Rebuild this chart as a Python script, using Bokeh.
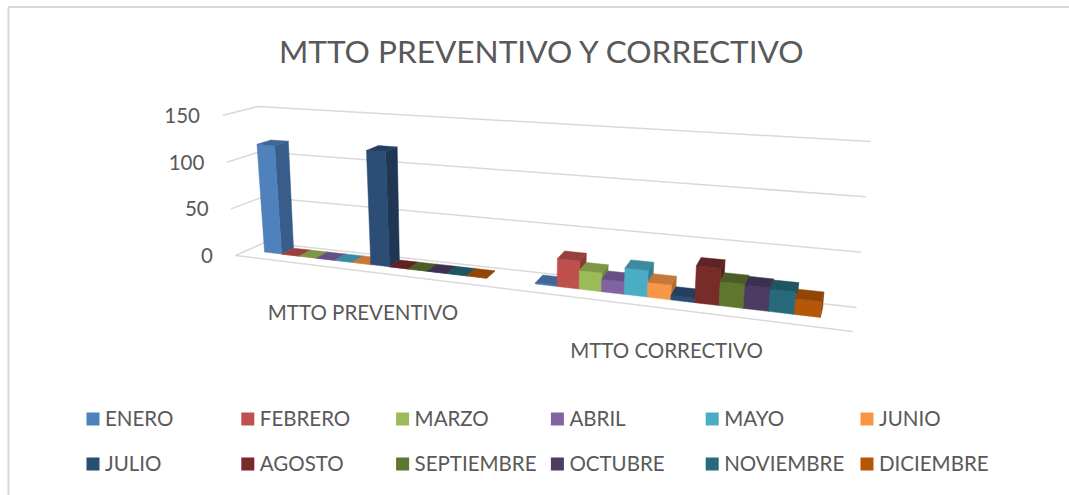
from bokeh.plotting import figure
from bokeh.embed import file_html
from bokeh.resources import INLINE
from bokeh.models import Range1d
from bokeh.core.properties import value

TITLE = "MTTO PREVENTIVO Y CORRECTIVO"
CATEGORIES = ["MTTO PREVENTIVO", "MTTO CORRECTIVO"]
MONTHS = ["ENERO", "FEBRERO", "MARZO", "ABRIL", "MAYO", "JUNIO", "JULIO", "AGOSTO",
          "SEPTIEMBRE", "OCTUBRE", "NOVIEMBRE", "DICIEMBRE"]
PREVENTIVO = [116, 0, 0, 0, 0, 0, 118, 0, 0, 0, 0, 0]
CORRECTIVO = [1, 27, 18, 12, 25, 14, 4, 34, 22, 21, 20, 14]
TICKS = [0, 50, 100, 150]
FRONT = ["#4F81BD", "#C0504D", "#9BBB59", "#8064A2", "#4BACC6", "#F79646",
         "#2C4D75", "#772C2A", "#5F7530", "#4D3B62", "#276A7C", "#B65708"]
SIDE = ["#385D8A", "#8C3A38", "#71893F", "#5C4776", "#357D91", "#B66D31",
        "#1F3752", "#561F1E", "#445422", "#362945", "#1B4B58", "#843F06"]
TOP = ["#3F6797", "#9A3F3D", "#7D9747", "#664F85", "#3C8AA0", "#C77738",
       "#233E5E", "#5F2322", "#4C5E26", "#3D2F4E", "#1F5563", "#924605"]

C = {
    (0, 0, 0): (235, 255), (1, 0, 0): (852, 331),
    (0, 1, 0): (264, 242), (1, 1, 0): (856, 307),
    (0, 0, 1): (222, 115), (1, 0, 1): (866, 156),
    (0, 1, 1): (257, 106), (1, 1, 1): (870, 141),
}
VMAX = 150
PERSP = 1.25
GROUP_START = [0.0345, 0.5301]
BAR_W = [0.0345, 0.0354]
V0, V1 = 0.42, 0.85


def warp(t):
    return t / (t + (1 - t) * PERSP)


def proj(t, v, val):
    u, w = warp(t), val / VMAX
    x = y = 0.0
    for (a, b, c), (px, py) in C.items():
        k = (u if a else 1 - u) * (v if b else 1 - v) * (w if c else 1 - w)
        x += k * px
        y += k * py
    return x, y


W, H = 1069, 495
p = figure(width=W, height=H, output_backend="svg", toolbar_location=None,
           x_range=Range1d(0, W), y_range=Range1d(H, 0), min_border=0)
p.axis.visible = False
p.grid.visible = False
p.outline_line_color = None
p.background_fill_color = "white"

FRAME_X, FRAME_Y = 8, 6.5
p.line([FRAME_X, FRAME_X], [H, FRAME_Y], line_color="#D9D9D9", line_width=2)
p.line([FRAME_X, W], [FRAME_Y, FRAME_Y], line_color="#D9D9D9", line_width=2)

FONT = value("Lato")
INK = "#595959"
GRID = "#D9D9D9"

for tv in TICKS:
    xs, ys = zip(*[proj(0, 0, tv), proj(0, 1, tv), proj(1, 1, tv)])
    p.line(list(xs), list(ys), line_color=GRID, line_width=1.5)
xs, ys = zip(*[proj(0, 0, 0), proj(1, 0, 0)])
p.line(list(xs), list(ys), line_color=GRID, line_width=1.5)

for c, series in enumerate([PREVENTIVO, CORRECTIVO]):
    for s, val in enumerate(series):
        t0 = GROUP_START[c] + s * BAR_W[c]
        t1 = t0 + BAR_W[c]
        fl0, fl1 = proj(t0, V0, 0), proj(t1, V0, 0)
        bl1 = proj(t1, V1, 0)
        ft0, ft1 = proj(t0, V0, val), proj(t1, V0, val)
        bt0, bt1 = proj(t0, V1, val), proj(t1, V1, val)
        faces = [([fl1, bl1, bt1, ft1], SIDE[s]),
                 ([fl0, fl1, ft1, ft0], FRONT[s]),
                 ([ft0, ft1, bt1, bt0], TOP[s])]
        for pts, col in faces:
            xs, ys = zip(*pts)
            p.patch(list(xs), list(ys), fill_color=col, line_color=col, line_width=0.5)

for tv in TICKS:
    x, y = proj(0, 0, tv)
    p.text([x - 22.5], [y], text=[str(tv)], text_font=FONT, text_font_size="20.5px",
           text_color=INK, text_align="right", text_baseline="middle")

CAT_X = [362.5, 666]
CAT_Y = [311.5, 349.5]
for x, y, t in zip(CAT_X, CAT_Y, CATEGORIES):
    p.text([x], [y], text=[t], text_font=FONT, text_font_size="20.5px", text_color=INK,
           text_align="center", text_baseline="middle")

p.text([542], [50], text=[TITLE], text_font=FONT, text_font_size="31.6px", text_color=INK,
       text_align="center", text_baseline="middle")

LEG_X0, LEG_DX, LEG_Y0, LEG_DY, BOX = 86, 154.8, 418.5, 45, 13
for i, (m, col) in enumerate(zip(MONTHS, FRONT)):
    x = LEG_X0 + (i % 6) * LEG_DX
    y = LEG_Y0 + (i // 6) * LEG_DY
    p.quad(left=[x], right=[x + BOX], top=[y - BOX / 2], bottom=[y + BOX / 2],
           fill_color=col, line_color=None)
    p.text([x + 18.5], [y - 1.5], text=[m], text_font=FONT, text_font_size="20.5px", text_color=INK,
           text_align="left", text_baseline="middle")

open("out.html", "w").write(file_html(p, INLINE))
